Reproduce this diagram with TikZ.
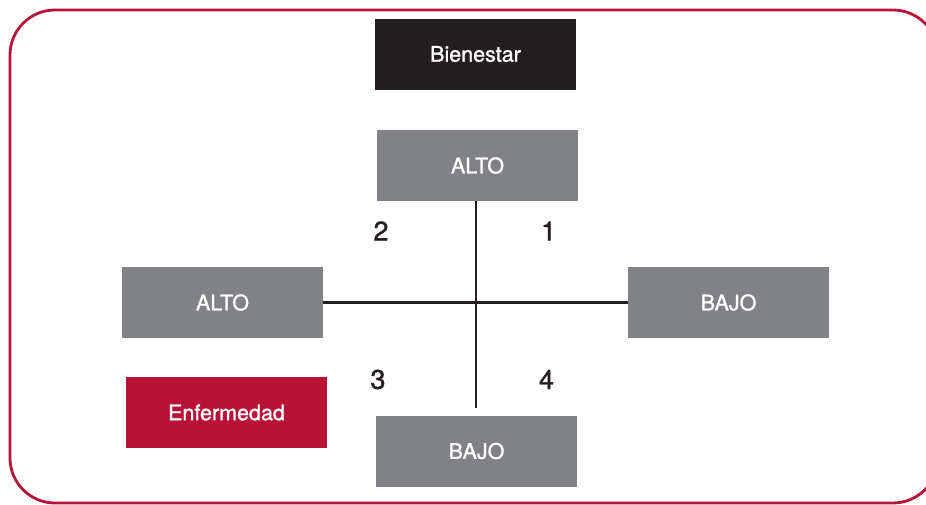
\documentclass[tikz,border=0pt]{standalone}
\usepackage{fontspec}
\setmainfont{TeX Gyre Heros}
\newfontfamily\heromed[FakeBold=1.2]{TeX Gyre Heros}
\definecolor{grisbox}{HTML}{808285}
\definecolor{negrobox}{HTML}{231F20}
\definecolor{rojobox}{HTML}{B81236}
\begin{document}
\begin{tikzpicture}[x=1pt,y=-1pt,
    caja/.style={fill=grisbox,text=white,minimum width=201pt,minimum height=71pt,inner sep=0pt,font=\heromed\fontsize{21.5}{24}\selectfont},
    cuadrante/.style={font=\heromed\fontsize{27}{30}\selectfont,text=negrobox},
    eje/.style={draw=negrobox,line width=2.3pt}]
        \useasboundingbox (0,0) rectangle (926,504);
        % marco
        \draw[rojobox,line width=2.8pt,rounded corners=45pt] (10,10) rectangle (938,503);
        \node[caja,fill=negrobox] (bienestar) at (475.5,54) {Bienestar};
        \node[caja] (altosup) at (477.5,165.5) {ALTO};
        \node[caja] (altoizq) at (222.5,302.5) {ALTO};
        \node[caja] (bajoder) at (728.5,302.5) {BAJO};
        \node[caja] (bajoinf) at (476.5,451) {BAJO};
        \node[caja,fill=rojobox] (enfermedad) at (226.5,412.5) {Enfermedad};
        \coordinate (fin) at (476,408);
        \draw[eje] (altoizq.east) -- (bajoder.west);
        \draw[eje] (altosup.south -| fin) -- (fin);
        \node[cuadrante] (c2) at (381,231) {2};
        \node[cuadrante] (c1) at (548.5,231) {1};
        \node[cuadrante] (c3) at (378,379.5) {3};
        \node[cuadrante] (c4) at (546.5,379.5) {4};
\end{tikzpicture}
\end{document}
